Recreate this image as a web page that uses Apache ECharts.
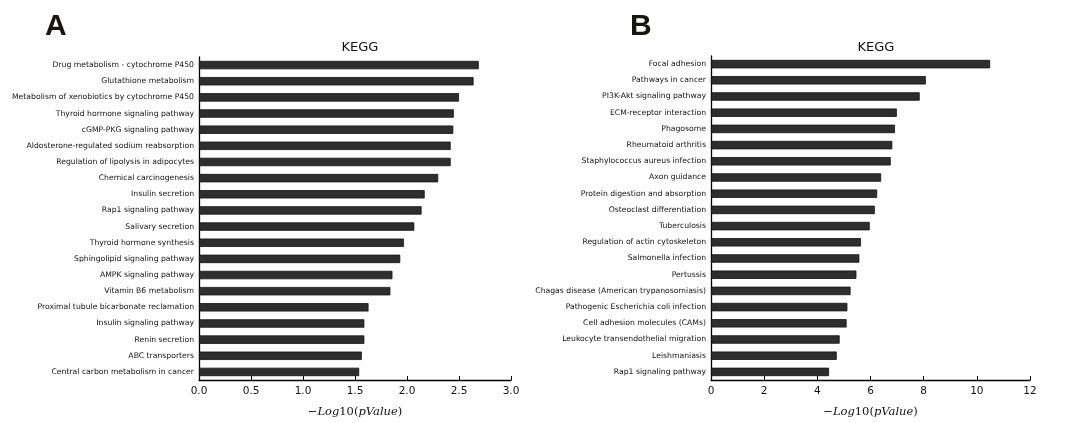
<!DOCTYPE html>
<html>
<head>
<meta charset="utf-8">
<script src="https://cdn.jsdelivr.net/npm/echarts@6/dist/echarts.min.js"></script>
<style>
  html, body { margin: 0; padding: 0; background: #fff; }
  #chart { width: 1072px; height: 423px; }
</style>
</head>
<body>
<div id="chart"></div>
<script>
// KEGG pathway enrichment, panel A
const pathwaysA = [
  'Drug metabolism - cytochrome P450',
  'Glutathione metabolism',
  'Metabolism of xenobiotics by cytochrome P450',
  'Thyroid hormone signaling pathway',
  'cGMP-PKG signaling pathway',
  'Aldosterone-regulated sodium reabsorption',
  'Regulation of lipolysis in adipocytes',
  'Chemical carcinogenesis',
  'Insulin secretion',
  'Rap1 signaling pathway',
  'Salivary secretion',
  'Thyroid hormone synthesis',
  'Sphingolipid signaling pathway',
  'AMPK signaling pathway',
  'Vitamin B6 metabolism',
  'Proximal tubule bicarbonate reclamation',
  'Insulin signaling pathway',
  'Renin secretion',
  'ABC transporters',
  'Central carbon metabolism in cancer'
];
const scoresA = [2.69, 2.64, 2.50, 2.45, 2.445, 2.42, 2.42, 2.30, 2.17, 2.14,
                 2.07, 1.97, 1.935, 1.86, 1.84, 1.63, 1.59, 1.59, 1.565, 1.54];

// KEGG pathway enrichment, panel B
const pathwaysB = [
  'Focal adhesion',
  'Pathways in cancer',
  'PI3K-Akt signaling pathway',
  'ECM-receptor interaction',
  'Phagosome',
  'Rheumatoid arthritis',
  'Staphylococcus aureus infection',
  'Axon guidance',
  'Protein digestion and absorption',
  'Osteoclast differentiation',
  'Tuberculosis',
  'Regulation of actin cytoskeleton',
  'Salmonella infection',
  'Pertussis',
  'Chagas disease (American trypanosomiasis)',
  'Pathogenic Escherichia coli infection',
  'Cell adhesion molecules (CAMs)',
  'Leukocyte transendothelial migration',
  'Leishmaniasis',
  'Rap1 signaling pathway'
];
const scoresB = [10.50, 8.08, 7.85, 6.99, 6.92, 6.82, 6.76, 6.40, 6.25, 6.16,
                 5.97, 5.64, 5.58, 5.47, 5.25, 5.13, 5.10, 4.84, 4.73, 4.44];

// x-axis ranges
const xRangeA = { min: 0, max: 3, interval: 0.5 };
const xRangeB = { min: 0, max: 12, interval: 2 };

const chart = echarts.init(document.getElementById('chart'));

const sans = 'DejaVu Sans';
const axisLine = { show: true, lineStyle: { color: '#000', width: 1.3 } };

function valueAxis(gridIndex, range, fmt) {
  return {
    type: 'value',
    gridIndex,
    min: range.min, max: range.max, interval: range.interval,
    axisLine,
    axisTick: { show: true, inside: true, length: 4, lineStyle: { color: '#000' } },
    splitLine: { show: false },
    axisLabel: { color: '#111', fontFamily: sans, fontSize: 10.5, margin: 6, formatter: fmt },
    name: '{m|\u2212}{i|Log}{n|10(}{i|pValue}{n|)}',
    nameLocation: 'middle',
    nameGap: 26,
    nameTextStyle: {
      rich: {
        m: { fontFamily: 'DejaVu Serif', fontSize: 11.5, color: '#111' },
        i: { fontFamily: 'DejaVu Serif', fontStyle: 'italic', fontSize: 11.5, color: '#111' },
        n: { fontFamily: 'DejaVu Serif', fontSize: 11.5, color: '#111' }
      }
    }
  };
}

function categoryAxis(gridIndex, cats) {
  return {
    type: 'category',
    gridIndex,
    data: cats,
    inverse: true,
    axisLine,
    axisTick: { show: true, inside: true, length: 3, alignWithLabel: true, lineStyle: { color: '#000' } },
    axisLabel: { color: '#111', fontFamily: sans, fontSize: 7.7, margin: 5, interval: 0 }
  };
}

function barSeries(idx, values) {
  return {
    type: 'bar',
    xAxisIndex: idx,
    yAxisIndex: idx,
    data: values,
    barCategoryGap: '48%',
    itemStyle: { color: '#2e2e2e', borderColor: '#111', borderWidth: 0.8 },
    silent: true
  };
}

chart.setOption({
  animation: false,
  backgroundColor: '#fff',
  title: [
    { text: 'A', left: 40, top: 7, textStyle: { fontFamily: 'Liberation Sans', fontWeight: 'bold', fontSize: 30, color: '#1a1410' } },
    { text: 'B', left: 625, top: 7, textStyle: { fontFamily: 'Liberation Sans', fontWeight: 'bold', fontSize: 30, color: '#1a1410' } },
    { text: 'KEGG', left: 355, top: 36, textAlign: 'center', textStyle: { fontFamily: sans, fontWeight: 'normal', fontSize: 13, color: '#111' } },
    { text: 'KEGG', left: 871, top: 36, textAlign: 'center', textStyle: { fontFamily: sans, fontWeight: 'normal', fontSize: 13, color: '#111' } }
  ],
  grid: [
    { left: 199, right: 561, top: 57, bottom: 34 },
    { left: 711, right: 42, top: 56, bottom: 35 }
  ],
  xAxis: [
    valueAxis(0, xRangeA, v => v.toFixed(1)),
    valueAxis(1, xRangeB, v => String(v))
  ],
  yAxis: [
    categoryAxis(0, pathwaysA),
    categoryAxis(1, pathwaysB)
  ],
  series: [
    barSeries(0, scoresA),
    barSeries(1, scoresB)
  ]
});
</script>
</body>
</html>
